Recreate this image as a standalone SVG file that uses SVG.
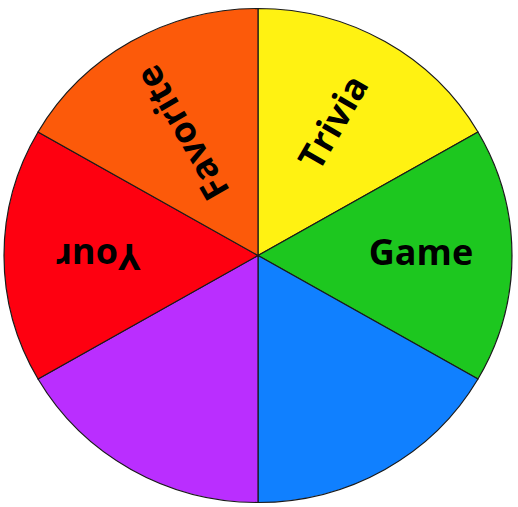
<svg xmlns="http://www.w3.org/2000/svg" width="518" height="507" viewBox="0 0 518 507">
<style>
.sec{stroke:#1a1a1a;stroke-width:1.2;stroke-linejoin:round}
.lbl{font-family:"Open Sans","Liberation Sans",sans-serif;font-weight:700;font-size:36px;fill:#000;text-anchor:middle}
</style>
<rect width="518" height="507" fill="#fff"/>
<g id="sector-trivia"><path class="sec" fill="#FFF212" d="M258,255.5 L258,8.5 A254,247 0 0 1 477.97,132 Z"/></g>
<g id="sector-game"><path class="sec" fill="#1DC71F" d="M258,255.5 L477.97,132 A254,247 0 0 1 477.97,379 Z"/></g>
<g id="sector-blue"><path class="sec" fill="#1080FF" d="M258,255.5 L477.97,379 A254,247 0 0 1 258,502.5 Z"/></g>
<g id="sector-purple"><path class="sec" fill="#BA2EFF" d="M258,255.5 L258,502.5 A254,247 0 0 1 38.03,379 Z"/></g>
<g id="sector-your"><path class="sec" fill="#FE0010" d="M258,255.5 L38.03,379 A254,247 0 0 1 38.03,132 Z"/></g>
<g id="sector-favorite"><path class="sec" fill="#FC5A0A" d="M258,255.5 L38.03,132 A254,247 0 0 1 258,8.5 Z"/></g>
<g id="labels">
<text class="lbl" transform="translate(421,252)" y="13">Game</text>
<text class="lbl" transform="translate(333,122) rotate(-60)" y="13">Trivia</text>
<text class="lbl" transform="translate(182,133) rotate(-120)" y="13">Favorite</text>
<text class="lbl" transform="translate(98,257) rotate(180)" y="13">Your</text>
</g>
</svg>
